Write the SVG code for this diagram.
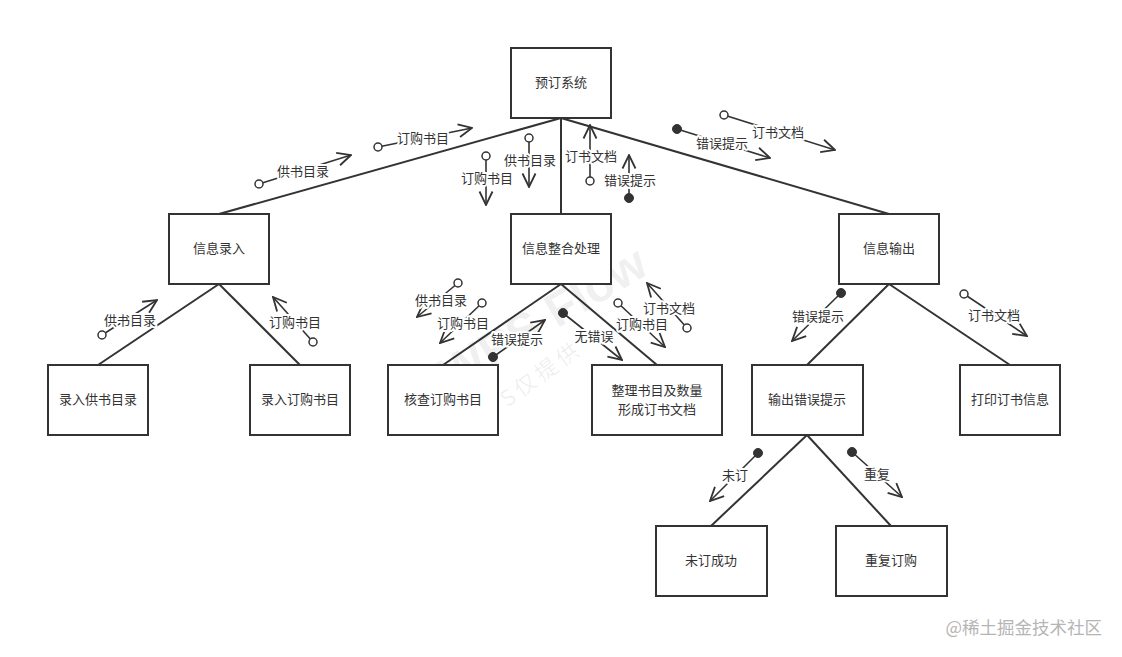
<svg xmlns="http://www.w3.org/2000/svg" width="1122" height="657" viewBox="0 0 1122 657">
<style>
.box{fill:#fff;stroke:#333;stroke-width:2}
.lbl{font-family:"Noto Sans CJK SC","Liberation Sans",sans-serif;font-size:13px;fill:#333;text-anchor:middle;dominant-baseline:central}
.edge{stroke:#333;stroke-width:2;fill:none}
.msg{stroke:#333;stroke-width:1.6;fill:none;marker-end:url(#arr)}
.ml{font-family:"Noto Sans CJK SC","Liberation Sans",sans-serif;font-size:13px;fill:#333;text-anchor:middle;dominant-baseline:central;stroke:#fff;stroke-width:4px;paint-order:stroke;stroke-linejoin:round}
.oc{fill:#fff;stroke:#333;stroke-width:1.5}
.fc{fill:#333;stroke:#333;stroke-width:1}
.wm{font-family:"Liberation Sans",sans-serif;font-weight:bold;fill:#000;fill-opacity:0.06}
.wm2{font-family:"Noto Sans CJK SC","Liberation Sans",sans-serif;fill:#000;fill-opacity:0.07}
</style>
<defs>
<marker id="arr" viewBox="0 0 16 16" refX="15" refY="8" markerWidth="16" markerHeight="16" markerUnits="userSpaceOnUse" orient="auto">
<path d="M1.5,1.5 L15,8 L1.5,14.5" fill="none" stroke="#333" stroke-width="1.8"/>
</marker>
</defs>
<rect width="1122" height="657" fill="#fff"/>
<g id="connectors">
<line class="edge" x1="561" y1="118" x2="219" y2="214"/>
<line class="edge" x1="561" y1="118" x2="561" y2="214"/>
<line class="edge" x1="561" y1="118" x2="889" y2="214"/>
<line class="edge" x1="219" y1="284" x2="98" y2="365"/>
<line class="edge" x1="219" y1="284" x2="300" y2="365"/>
<line class="edge" x1="561" y1="284" x2="443" y2="365"/>
<line class="edge" x1="561" y1="284" x2="657" y2="365"/>
<line class="edge" x1="889" y1="284" x2="807" y2="365"/>
<line class="edge" x1="889" y1="284" x2="1010" y2="365"/>
<line class="edge" x1="807" y1="435" x2="711" y2="526"/>
<line class="edge" x1="807" y1="435" x2="891" y2="526"/>
</g>
<g id="watermark">
<text class="wm" x="0" y="0" font-size="48" transform="translate(452,392) rotate(-31)">WPS Flow</text>
<text class="wm2" x="0" y="0" font-size="22" letter-spacing="4" transform="translate(474,432) rotate(-36)">WPS仅提供</text>
</g>
<g id="messages">
<g id="m1"><line class="msg" x1="259" y1="184" x2="351" y2="155"/><circle class="oc" cx="259" cy="184" r="4"/><text class="ml" x="303" y="170.5">供书目录</text></g>
<g id="m2"><line class="msg" x1="378" y1="147" x2="472" y2="128"/><circle class="oc" cx="378" cy="147" r="4"/><text class="ml" x="423" y="137.5">订购书目</text></g>
<g id="m3"><line class="msg" x1="486" y1="156" x2="486" y2="205"/><circle class="oc" cx="486" cy="156" r="4"/><text class="ml" x="487" y="177.5">订购书目</text></g>
<g id="m4"><line class="msg" x1="529" y1="138" x2="529" y2="187"/><circle class="oc" cx="529" cy="138" r="4"/><text class="ml" x="530" y="159.5">供书目录</text></g>
<g id="m5"><line class="msg" x1="590" y1="181" x2="590" y2="125"/><circle class="oc" cx="590" cy="181" r="4"/><text class="ml" x="591" y="155.5">订书文档</text></g>
<g id="m6"><line class="msg" x1="629" y1="198" x2="629" y2="155"/><circle class="fc" cx="629" cy="198" r="4.5"/><text class="ml" x="630" y="179.5">错误提示</text></g>
<g id="m7"><line class="msg" x1="677" y1="129" x2="770" y2="158"/><circle class="fc" cx="677" cy="129" r="4.5"/><text class="ml" x="722" y="142.5">错误提示</text></g>
<g id="m8"><line class="msg" x1="724" y1="115" x2="835" y2="150"/><circle class="oc" cx="724" cy="115" r="4"/><text class="ml" x="778" y="131.5">订书文档</text></g>
<g id="m9"><line class="msg" x1="102" y1="335" x2="157" y2="300"/><circle class="oc" cx="102" cy="335" r="4"/><text class="ml" x="130" y="319.5">供书目录</text></g>
<g id="m10"><line class="msg" x1="313" y1="342" x2="273" y2="297"/><circle class="oc" cx="313" cy="342" r="4"/><text class="ml" x="295" y="321.5">订购书目</text></g>
<g id="m11"><line class="msg" x1="458" y1="283" x2="417" y2="317"/><circle class="oc" cx="458" cy="283" r="4"/><text class="ml" x="441" y="299.5">供书目录</text></g>
<g id="m12"><line class="msg" x1="482" y1="303" x2="440" y2="343"/><circle class="oc" cx="482" cy="303" r="4"/><text class="ml" x="463" y="322.5">订购书目</text></g>
<g id="m13"><line class="msg" x1="493" y1="357" x2="545" y2="320"/><circle class="fc" cx="493" cy="357" r="4.5"/><text class="ml" x="517" y="338.5">错误提示</text></g>
<g id="m14"><line class="msg" x1="563" y1="313" x2="622" y2="360"/><circle class="fc" cx="563" cy="313" r="4.5"/><text class="ml" x="594" y="335.5">无错误</text></g>
<g id="m15"><line class="msg" x1="618" y1="303" x2="665" y2="347"/><circle class="oc" cx="618" cy="303" r="4"/><text class="ml" x="642" y="323.5">订购书目</text></g>
<g id="m16"><line class="msg" x1="687" y1="328" x2="647" y2="283"/><circle class="oc" cx="687" cy="328" r="4"/><text class="ml" x="669" y="307.5">订书文档</text></g>
<g id="m17"><line class="msg" x1="841" y1="293" x2="792" y2="341"/><circle class="fc" cx="841" cy="293" r="4.5"/><text class="ml" x="818" y="315.5">错误提示</text></g>
<g id="m18"><line class="msg" x1="964" y1="294" x2="1027" y2="336"/><circle class="oc" cx="964" cy="294" r="4"/><text class="ml" x="994" y="314.5">订书文档</text></g>
<g id="m19"><line class="msg" x1="758" y1="453" x2="710" y2="501"/><circle class="fc" cx="758" cy="453" r="4.5"/><text class="ml" x="735" y="474.5">未订</text></g>
<g id="m20"><line class="msg" x1="852" y1="452" x2="902" y2="497"/><circle class="fc" cx="852" cy="452" r="4.5"/><text class="ml" x="877" y="473.5">重复</text></g>
</g>
<g id="n-root"><rect class="box" x="511" y="48" width="100" height="70"/><text class="lbl" x="561" y="81.5">预订系统</text></g>
<g id="n-input"><rect class="box" x="169" y="214" width="100" height="70"/><text class="lbl" x="219" y="247.5">信息录入</text></g>
<g id="n-process"><rect class="box" x="511" y="214" width="100" height="70"/><text class="lbl" x="561" y="247.5">信息整合处理</text></g>
<g id="n-output"><rect class="box" x="839" y="214" width="100" height="70"/><text class="lbl" x="889" y="247.5">信息输出</text></g>
<g id="n-in1"><rect class="box" x="48" y="365" width="100" height="70"/><text class="lbl" x="98" y="398.5">录入供书目录</text></g>
<g id="n-in2"><rect class="box" x="250" y="365" width="100" height="70"/><text class="lbl" x="300" y="398.5">录入订购书目</text></g>
<g id="n-check"><rect class="box" x="388" y="365" width="110" height="70"/><text class="lbl" x="443" y="398.5">核查订购书目</text></g>
<g id="n-sort"><rect class="box" x="592" y="365" width="130" height="70"/><text class="lbl" x="657" y="389.5" font-size="12.5">整理书目及数量</text><text class="lbl" x="657" y="408" font-size="12.5">形成订书文档</text></g>
<g id="n-err"><rect class="box" x="752" y="365" width="111" height="70"/><text class="lbl" x="807" y="398.5">输出错误提示</text></g>
<g id="n-print"><rect class="box" x="960" y="365" width="100" height="70"/><text class="lbl" x="1010" y="398.5">打印订书信息</text></g>
<g id="n-fail"><rect class="box" x="656" y="526" width="111" height="70"/><text class="lbl" x="711" y="559.5">未订成功</text></g>
<g id="n-dup"><rect class="box" x="836" y="526" width="111" height="70"/><text class="lbl" x="891" y="559.5">重复订购</text></g>
<text x="1102" y="626.5" font-family="Noto Sans CJK SC,Liberation Sans,sans-serif" font-size="17.5" fill="#b5b5b5" text-anchor="end" dominant-baseline="central">@稀土掘金技术社区</text>
</svg>
